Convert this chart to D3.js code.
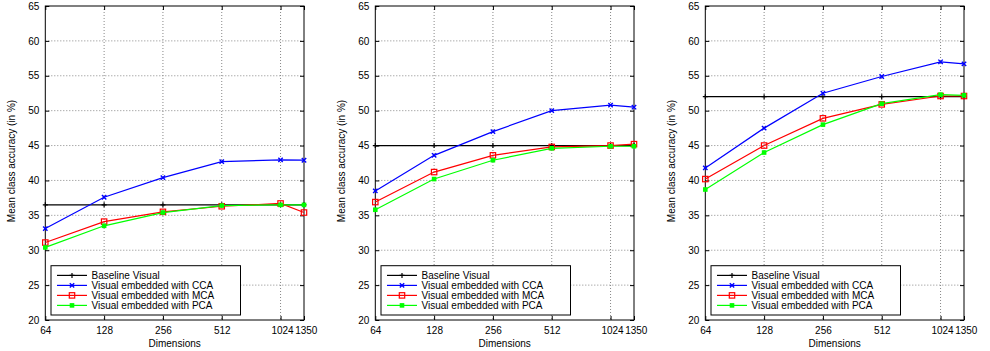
<!DOCTYPE html>
<html><head><meta charset="utf-8">
<script src="https://cdn.jsdelivr.net/npm/d3@7"></script>
<style>body{margin:0;background:#fff}svg{display:block}text{font-family:"Liberation Sans",Arial,sans-serif;fill:#000}</style>
</head><body><svg id="c" width="990" height="351"></svg>
<script>
const dims = [64, 128, 256, 512, 1024, 1350];
const yTicks = [20, 25, 30, 35, 40, 45, 50, 55, 60, 65];
const seriesNames = ["Baseline Visual", "Visual embedded with CCA", "Visual embedded with MCA", "Visual embedded with PCA"];
const seriesColors = ["#000000", "#0000ff", "#ff0000", "#00ff00"];
const seriesMarkers = ["plus", "cross", "square", "filled"];
// panel 1
const p1Baseline = [36.5, 36.5, 36.5, 36.5, 36.5, 36.5];
const p1CCA = [33.1, 37.6, 40.4, 42.7, 42.95, 42.9];
const p1MCA = [31.1, 34.1, 35.5, 36.3, 36.7, 35.4];
const p1PCA = [30.4, 33.5, 35.4, 36.4, 36.5, 36.5];
// panel 2
const p2Baseline = [45.0, 45.0, 45.0, 45.0, 45.0, 45.0];
const p2CCA = [38.5, 43.6, 47.0, 50.0, 50.8, 50.5];
const p2MCA = [36.9, 41.2, 43.6, 44.8, 45.0, 45.2];
const p2PCA = [35.8, 40.2, 42.9, 44.6, 44.9, 44.9];
// panel 3
const p3Baseline = [52.0, 52.0, 52.0, 52.0, 52.0, 52.0];
const p3CCA = [41.8, 47.5, 52.5, 54.9, 57.0, 56.7];
const p3MCA = [40.2, 45.0, 48.9, 50.9, 52.1, 52.1];
const p3PCA = [38.7, 44.0, 48.0, 51.0, 52.3, 52.2];

const panels = [
  [p1Baseline, p1CCA, p1MCA, p1PCA],
  [p2Baseline, p2CCA, p2MCA, p2PCA],
  [p3Baseline, p3CCA, p3MCA, p3PCA]
];

const svg = d3.select("#c");
const W = 258.7, H = 314, plotTop = 6;

function marker(g, type, color, x, y) {
  if (type === "plus") {
    const s = 2.5;
    g.append("path").attr("d", `M${x-s},${y}H${x+s}M${x},${y-s}V${y+s}`).attr("stroke", color).attr("stroke-width", 1.2).attr("fill", "none");
  } else if (type === "cross") {
    const s = 2.2;
    g.append("path").attr("d", `M${x-s},${y-s}L${x+s},${y+s}M${x-s},${y+s}L${x+s},${y-s}`).attr("stroke", color).attr("stroke-width", 1.4).attr("fill", "none");
  } else if (type === "square") {
    g.append("rect").attr("x", x-2.7).attr("y", y-2.7).attr("width", 5.4).attr("height", 5.4).attr("stroke", color).attr("stroke-width", 1.2).attr("fill", "none");
  } else {
    g.append("rect").attr("x", x-2.3).attr("y", y-2.3).attr("width", 4.6).attr("height", 4.6).attr("fill", color);
  }
}

panels.forEach((series, i) => {
  const left = 45.3 + 330 * i;
  const x = d3.scaleLog().base(2).domain([64, 1350]).range([left, left + W]);
  const y = d3.scaleLinear().domain([20, 65]).range([plotTop + H, plotTop]);
  const g = svg.append("g");

  // grid
  g.append("g").selectAll("line").data(yTicks.slice(1, -1)).join("line")
    .attr("x1", left).attr("x2", left + W).attr("y1", d => y(d)).attr("y2", d => y(d))
    .attr("stroke", "#888").attr("stroke-width", 1).attr("stroke-dasharray", "1,2");
  g.append("g").selectAll("line").data(dims.slice(1, -1)).join("line")
    .attr("y1", plotTop).attr("y2", plotTop + H).attr("x1", d => x(d)).attr("x2", d => x(d))
    .attr("stroke", "#888").attr("stroke-width", 1).attr("stroke-dasharray", "1,2");

  // axes
  const ax = g.append("g").attr("transform", `translate(0,${plotTop + H})`)
    .call(d3.axisBottom(x).tickValues(dims).tickFormat(d3.format("d")).tickSizeInner(-4).tickSizeOuter(0).tickPadding(7));
  const axT = g.append("g").attr("transform", `translate(0,${plotTop})`)
    .call(d3.axisTop(x).tickValues(dims).tickFormat("").tickSizeInner(-4).tickSizeOuter(0));
  const ay = g.append("g").attr("transform", `translate(${left},0)`)
    .call(d3.axisLeft(y).tickValues(yTicks).tickSizeInner(-4).tickSizeOuter(0).tickPadding(6));
  const ayR = g.append("g").attr("transform", `translate(${left + W},0)`)
    .call(d3.axisRight(y).tickValues(yTicks).tickFormat("").tickSizeInner(-4).tickSizeOuter(0));
  [ax, axT, ay, ayR].forEach(a => {
    a.select(".domain").remove();
    a.selectAll("line").attr("stroke", "#000");
    a.selectAll("text").attr("font-size", 10).attr("font-family", '"Liberation Sans",Arial,sans-serif');
  });
  ax.selectAll(".tick text").attr("dx", (d) => d === 1350 ? "1.8" : (d === 1024 ? "1.5" : "0"));

  // border
  g.append("rect").attr("x", left).attr("y", plotTop).attr("width", W).attr("height", H)
    .attr("fill", "none").attr("stroke", "#000").attr("stroke-width", 1);

  // labels
  g.append("text").attr("x", left + W / 2).attr("y", 347).attr("text-anchor", "middle").attr("font-size", 10).text("Dimensions");
  g.append("text").attr("transform", `translate(${left - 30.5},${161}) rotate(-90)`).attr("text-anchor", "middle").attr("font-size", 10).text("Mean class accuracy (in %)");

  // series
  const line = d3.line().x((d, k) => x(dims[k])).y(d => y(d));
  series.forEach((vals, s) => {
    g.append("path").datum(vals).attr("d", line).attr("fill", "none")
      .attr("stroke", seriesColors[s]).attr("stroke-width", 1.2);
    vals.forEach((v, k) => marker(g, seriesMarkers[s], seriesColors[s], x(dims[k]), y(v)));
  });

  // legend
  const lx = left + 5.7, ly = 265.7;
  g.append("rect").attr("x", lx).attr("y", ly).attr("width", 189.5).attr("height", 49.3)
    .attr("fill", "#fff").attr("stroke", "#000").attr("stroke-width", 1);
  seriesNames.forEach((name, s) => {
    const yy = ly + 9.7 + s * 10;
    g.append("line").attr("x1", lx + 6).attr("x2", lx + 36).attr("y1", yy).attr("y2", yy)
      .attr("stroke", seriesColors[s]).attr("stroke-width", 1.2);
    marker(g, seriesMarkers[s], seriesColors[s], lx + 21, yy);
    g.append("text").attr("x", lx + 40.5).attr("y", yy + 3.6).attr("font-size", 10).text(name);
  });
});
</script></body></html>
